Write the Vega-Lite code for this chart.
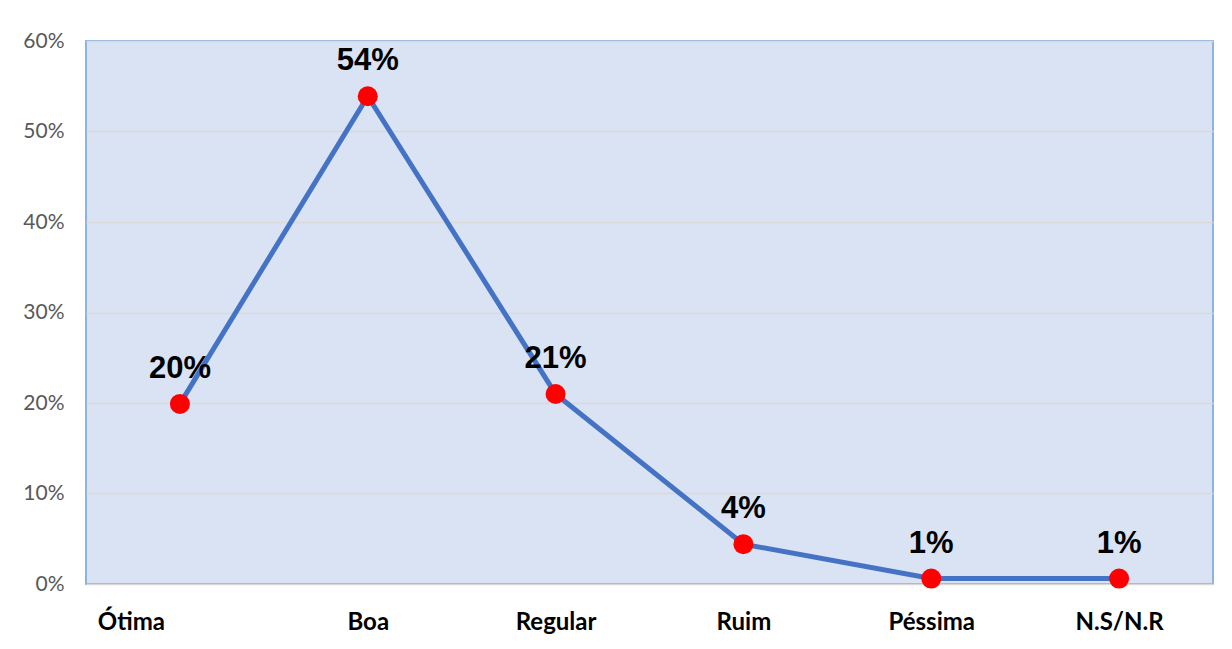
{
  "$schema": "https://vega.github.io/schema/vega-lite/v6.json",
  "autosize": {"type": "none"},
  "width": 1127,
  "height": 543,
  "padding": {"left": 86, "top": 41, "right": 19, "bottom": 65},
  "background": "white",
  "config": {
    "view": {"fill": "#DAE3F3", "stroke": "#8DB3E2", "strokeWidth": 2},
    "font": "Lato"
  },
  "data": {
    "values": [
      {"categoria": "Ótima", "valor": 0.199, "rotulo": "20%"},
      {"categoria": "Boa", "valor": 0.539, "rotulo": "54%"},
      {"categoria": "Regular", "valor": 0.21, "rotulo": "21%"},
      {"categoria": "Ruim", "valor": 0.044, "rotulo": "4%"},
      {"categoria": "Péssima", "valor": 0.006, "rotulo": "1%"},
      {"categoria": "N.S/N.R", "valor": 0.006, "rotulo": "1%"}
    ]
  },
  "encoding": {
    "x": {
      "field": "categoria",
      "type": "nominal",
      "sort": null,
      "scale": {"type": "point", "padding": 0.5},
      "axis": {
        "title": null,
        "domain": false,
        "ticks": false,
        "labelAngle": 0,
        "labelFont": "Lato",
        "labelFontSize": 24,
        "labelFontWeight": "bold",
        "labelColor": "#000000",
        "labelPadding": 26,
        "labelBaseline": "top",
        "labelOffset": {"condition": {"test": "datum.value == 'Ótima'", "value": -49}, "value": 0}
      }
    },
    "y": {
      "field": "valor",
      "type": "quantitative",
      "scale": {"domain": [0, 0.6], "nice": false},
      "axis": {
        "title": null,
        "format": ".0%",
        "values": [0, 0.1, 0.2, 0.3, 0.4, 0.5, 0.6],
        "domain": false,
        "ticks": false,
        "labelFont": "Lato",
        "labelFontSize": 21,
        "labelColor": "#595959",
        "labelPadding": 22,
        "gridColor": "#D9D9D9",
        "gridWidth": 1.5
      }
    }
  },
  "layer": [
    {"mark": {"type": "line", "color": "#4472C4", "strokeWidth": 5}},
    {"mark": {"type": "point", "filled": true, "color": "#FF0000", "opacity": 1, "size": 400}},
    {
      "mark": {"type": "text", "font": "Liberation Sans", "fontSize": 31, "fontWeight": "bold", "color": "#000000", "dy": -35, "baseline": "middle"},
      "encoding": {"text": {"field": "rotulo"}}
    }
  ]
}
